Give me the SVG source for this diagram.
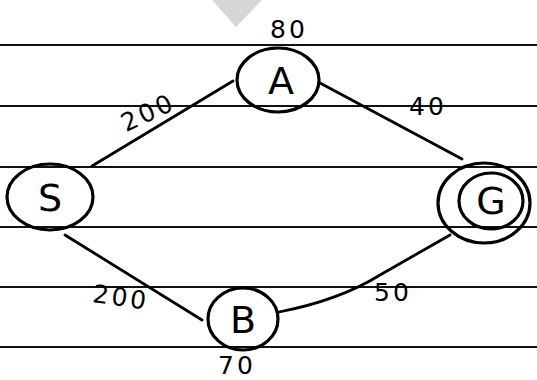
<svg xmlns="http://www.w3.org/2000/svg" width="537" height="380" viewBox="0 0 537 380">
<style>
.rule{stroke:#111;stroke-width:2.2}
.node{fill:none;stroke:#000;stroke-width:3.2}
.edge{fill:none;stroke:#000;stroke-width:2.8;stroke-linecap:round}
.lbl{font-family:"DejaVu Sans","Liberation Sans",sans-serif;font-size:38px;fill:#000;text-anchor:middle}
.w{font-family:"DejaVu Sans","Liberation Sans",sans-serif;font-size:25px;fill:#000;text-anchor:middle;letter-spacing:3px}
</style>
<rect width="537" height="380" fill="#fff"/>
<polygon points="212,0 262,0 236,27" fill="#d6d6d6"/>
<g id="rules">
<line class="rule" x1="0" y1="45" x2="537" y2="45"/>
<line class="rule" x1="0" y1="106" x2="537" y2="106"/>
<line class="rule" x1="0" y1="167" x2="537" y2="167"/>
<line class="rule" x1="0" y1="227" x2="537" y2="227"/>
<line class="rule" x1="0" y1="287" x2="537" y2="287"/>
<line class="rule" x1="0" y1="347" x2="537" y2="347"/>
</g>
<g id="connectors">
<line class="edge" x1="92" y1="166" x2="233" y2="81"/>
<line class="edge" x1="320" y1="83" x2="462" y2="159"/>
<line class="edge" x1="65" y1="235" x2="202" y2="320"/>
<path class="edge" d="M279,312 Q340,300 380,275 Q420,252 450,235"/>
<text class="w" x="148" y="121" transform="rotate(-25 148 112)">200</text>
<text class="w" x="428" y="115">40</text>
<text class="w" x="121" y="306" transform="rotate(8 121 297)">200</text>
<text class="w" x="393" y="301">50</text>
</g>
<g id="A">
<ellipse class="node" cx="278" cy="80" rx="41" ry="32"/>
<text class="lbl" x="281" y="94">A</text>
<text class="w" x="289" y="38">80</text>
</g>
<g id="S">
<ellipse class="node" cx="50" cy="197" rx="43" ry="33"/>
<text class="lbl" x="50" y="211">S</text>
</g>
<g id="G">
<ellipse class="node" cx="484" cy="203" rx="46" ry="40"/>
<ellipse class="node" cx="491" cy="201" rx="32" ry="28"/>
<text class="lbl" x="491" y="214">G</text>
</g>
<g id="B">
<ellipse class="node" cx="243" cy="319" rx="35" ry="31"/>
<text class="lbl" x="243" y="333">B</text>
<text class="w" x="237" y="374">70</text>
</g>
</svg>
